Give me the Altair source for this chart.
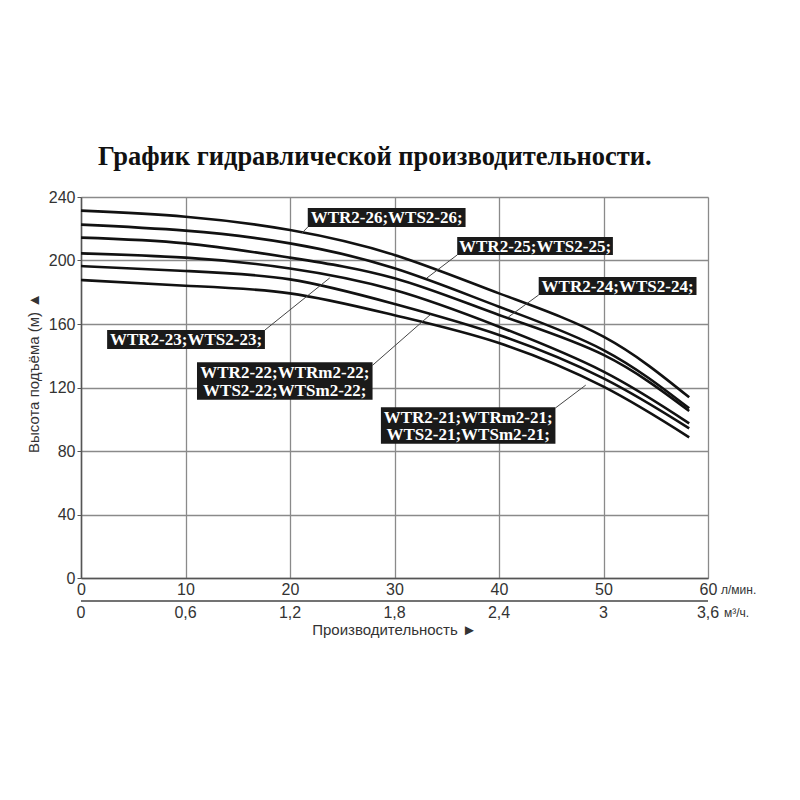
import altair as alt
import pandas as pd

# ---- data ----
flow = [0, 10, 20, 30, 40, 50, 58.2]          # л/мин
h26 = [231.4, 227.6, 219.2, 203.5, 179.3, 152.0, 113.8]
h25 = [222.6, 218.8, 210.8, 195.1, 170.9, 143.6, 106.9]
h24 = [214.4, 210.8, 201.8, 188.8, 165.7, 140.5, 105.2]
h23 = [204.5, 201.8, 195.0, 181.4, 158.3, 130.0, 97.4]
h22 = [196.5, 193.4, 188.1, 172.6, 153.1, 125.8, 94.3]
h21 = [187.7, 184.1, 179.3, 165.5, 148.0, 120.5, 88.6]
series = {"26": h26, "25": h25, "24": h24, "23": h23, "22": h22, "21": h21}

labels = [
    "WTR2-26;WTS2-26;",
    "WTR2-25;WTS2-25;",
    "WTR2-24;WTS2-24;",
    "WTR2-23;WTS2-23;",
    "WTR2-22;WTRm2-22;\nWTS2-22;WTSm2-22;",
    "WTR2-21;WTRm2-21;\nWTS2-21;WTSm2-21;",
]
box_x1 = [21.7, 36.0, 43.8, 2.5, 11.1, 28.7]
box_x2 = [36.8, 50.9, 58.9, 17.6, 27.9, 45.4]
box_y1 = [233.1, 214.8, 189.6, 156.2, 135.9, 107.6]
box_y2 = [221.1, 203.5, 178.3, 144.3, 112.3, 84.5]
lead_x1 = [21.7, 36.0, 43.8, 17.6, 27.9, 45.4]
lead_y1 = [221.1, 203.5, 178.3, 156.2, 134.0, 107.1]
lead_x2 = [21.15, 33.1, 40.9, 23.8, 33.4, 48.3]
lead_y2 = [217.3, 189.0, 164.4, 189.0, 165.7, 121.5]

x_ticks = [0, 10, 20, 30, 40, 50, 60]
m3_labels = ["0", "0,6", "1,2", "1,8", "2,4", "3", "3,6"]
y_ticks = [0, 40, 80, 120, 160, 200, 240]

W, H = 627, 381
LINE_H = 17.5

# ---- tables ----
rows = []
for k, vals in series.items():
    for xv, yv in zip(flow, vals):
        rows.append({"model": k, "x": xv, "y": yv})
curves = pd.DataFrame(rows)

boxes = pd.DataFrame({
    "label": labels, "x1": box_x1, "x2": box_x2, "y1": box_y1, "y2": box_y2,
    "lx1": lead_x1, "ly1": lead_y1, "lx2": lead_x2, "ly2": lead_y2,
})
boxes["cx"] = (boxes.x1 + boxes.x2) / 2
nlines = boxes.label.str.count("\n")
boxes["cy"] = (boxes.y1 + boxes.y2) / 2 + nlines * (LINE_H / 2) * 240 / H

m3 = pd.DataFrame({"x": x_ticks, "t": m3_labels})
one = pd.DataFrame({"k": [0]})

GRID = "#8a8a8a"
SANS = "Liberation Sans"
SERIF = "Liberation Serif"

xscale = alt.Scale(domain=[0, 60], nice=False, zero=False)
yscale = alt.Scale(domain=[0, 240], nice=False)

main_x_axis = alt.Axis(values=x_ticks, grid=True, gridColor=GRID, gridWidth=1.3,
                       ticks=False, domain=True, domainColor="#555", domainWidth=1.5,
                       labelFont=SANS, labelFontSize=16, labelColor="#333",
                       labelPadding=3, title=None, labelFlush=False)
y_axis = alt.Axis(values=y_ticks, grid=True, gridColor=GRID, gridWidth=1.3,
                  tickSize=4, tickColor="#555", domain=True, domainColor="#555",
                  domainWidth=1.5, labelFont=SANS, labelFontSize=16,
                  labelColor="#333", labelPadding=2, title=None)

lines = alt.Chart(curves).mark_line(color="#111", strokeWidth=2.6,
                                     interpolate="natural").encode(
    x=alt.X("x:Q", scale=xscale, axis=main_x_axis),
    y=alt.Y("y:Q", scale=yscale, axis=y_axis),
    detail="model:N",
)

leaders = alt.Chart(boxes).mark_rule(color="#444", strokeWidth=1).encode(
    x=alt.X("lx1:Q", scale=xscale),
    x2="lx2:Q",
    y=alt.Y("ly1:Q", scale=yscale),
    y2="ly2:Q",
)

rects = alt.Chart(boxes).mark_rect(color="#1a1a1a").encode(
    x=alt.X("x1:Q", scale=xscale),
    x2="x2:Q",
    y=alt.Y("y1:Q", scale=yscale),
    y2="y2:Q",
)

texts = alt.Chart(boxes).mark_text(color="white", font=SERIF, fontSize=17,
                                    fontWeight="bold", lineBreak="\n",
                                    lineHeight=LINE_H, baseline="middle",
                                    align="center", dy=1).encode(
    x=alt.X("cx:Q", scale=xscale),
    y=alt.Y("cy:Q", scale=yscale),
    text="label:N",
)

# y axis title
y_title = alt.Chart(one).mark_text(font=SANS, fontSize=15, color="#333",
                                   angle=270, align="center",
                                   baseline="middle").encode(
    x=alt.value(-47), y=alt.value(176),
    text=alt.value("Высота подъёма (м) ▲"),
)

# second (m³/h) scale drawn under the first one
m3_line = alt.Chart(one).mark_rule(color="#444", strokeWidth=1.6).encode(
    x=alt.datum(0, scale=xscale), x2=alt.datum(60), y=alt.value(H + 23),
)
m3_text = alt.Chart(m3).mark_text(font=SANS, fontSize=16, color="#333",
                                  baseline="top", align="center").encode(
    x=alt.X("x:Q", scale=xscale),
    y=alt.value(H + 27),
    text="t:N",
)
x_title = alt.Chart(one).mark_text(font=SANS, fontSize=15, color="#333",
                                   baseline="top", align="center").encode(
    x=alt.datum(30, scale=xscale), y=alt.value(H + 45),
    text=alt.value("Производительность ►"),
)

unit_flow = alt.Chart(pd.DataFrame({"x": [60], "t": ["л/мин."]})).mark_text(
    font=SANS, fontSize=12, color="#333", align="left", baseline="middle", dx=13
).encode(
    x=alt.X("x:Q", scale=xscale),
    y=alt.value(H + 12),
    text="t:N",
)
unit_vol = alt.Chart(pd.DataFrame({"x": [60], "t": ["м³/ч."]})).mark_text(
    font=SANS, fontSize=12, color="#333", align="left", baseline="middle", dx=16
).encode(
    x=alt.X("x:Q", scale=xscale),
    y=alt.value(H + 35),
    text="t:N",
)

chart = alt.layer(lines, leaders, rects, texts, y_title, m3_line, m3_text,
                  x_title, unit_flow, unit_vol).properties(
    width=W, height=H,
    title=alt.TitleParams(
        "График гидравлической производительности.",
        font=SERIF, fontSize=26.5, fontWeight="bold", color="#111",
        anchor="start", frame="group", dx=17, offset=19,
    ),
    autosize=alt.AutoSizeParams(type="none"),
    padding={"left": 73, "top": 189, "right": 84, "bottom": 200},
).configure_view(stroke="#777", strokeWidth=1.5).configure(background="white")

chart.save("out.html", embed_options={"renderer": "svg", "actions": False})
